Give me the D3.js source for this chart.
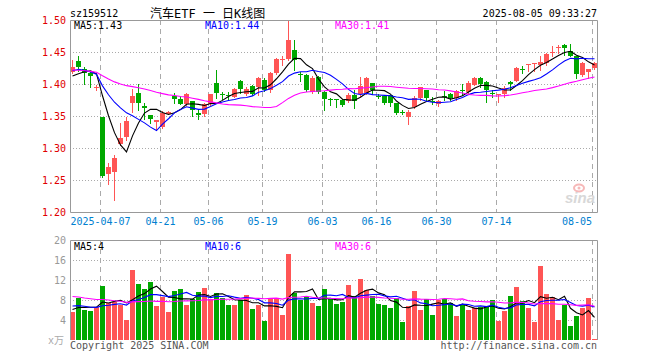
<!DOCTYPE html>
<html>
<head>
<meta charset="utf-8">
<script src="https://cdn.jsdelivr.net/npm/d3@7"></script>
<style>
body { margin: 0; background: #fff; }
svg text { font-family: "DejaVu Sans Mono", "Noto Sans CJK SC", monospace; font-size: 10px; }
</style>
</head>
<body>
<svg width="660" height="360"></svg>
<script>
// trading days shown on the chart
var days = ['03-28','03-31','04-01','04-02','04-03','04-07','04-08','04-09','04-10','04-11',
  '04-14','04-15','04-16','04-17','04-18','04-21','04-22','04-23','04-24','04-25',
  '04-28','04-29','04-30','05-06','05-07','05-08','05-09','05-12','05-13','05-14',
  '05-15','05-16','05-19','05-20','05-21','05-22','05-23','05-26','05-27','05-28',
  '05-29','05-30','06-03','06-04','06-05','06-06','06-09','06-10','06-11','06-12',
  '06-13','06-16','06-17','06-18','06-19','06-20','06-23','06-24','06-25','06-26',
  '06-27','06-30','07-01','07-02','07-03','07-04','07-07','07-08','07-09','07-10',
  '07-11','07-14','07-15','07-16','07-17','07-18','07-21','07-22','07-23','07-24',
  '07-25','07-28','07-29','07-30','07-31','08-01','08-04','08-05'];

var open = [1.419,1.436,1.423,1.417,1.393,1.349,1.260,1.263,1.306,1.317,
  1.371,1.386,1.365,1.351,1.341,1.333,1.353,1.381,1.377,1.369,
  1.373,1.355,1.353,1.369,1.402,1.385,1.383,1.380,1.405,1.385,
  1.397,1.395,1.407,1.391,1.417,1.438,1.439,1.453,1.415,1.414,
  1.388,1.411,1.388,1.376,1.376,1.375,1.374,1.383,1.385,1.386,
  1.402,1.382,1.381,1.383,1.370,1.357,1.348,1.364,1.378,1.391,
  1.374,1.368,1.381,1.384,1.378,1.390,1.388,1.399,1.409,1.403,
  1.386,1.383,1.385,1.403,1.405,1.424,1.430,1.432,1.429,1.433,
  1.449,1.457,1.461,1.452,1.443,1.414,1.419,1.425];
var high = [1.437,1.443,1.427,1.418,1.398,1.349,1.277,1.289,1.339,1.349,
  1.392,1.400,1.371,1.351,1.343,1.358,1.358,1.386,1.381,1.386,
  1.373,1.359,1.370,1.384,1.422,1.387,1.387,1.393,1.406,1.395,
  1.399,1.411,1.410,1.418,1.440,1.443,1.500,1.468,1.418,1.416,
  1.412,1.413,1.389,1.378,1.377,1.376,1.386,1.390,1.411,1.411,
  1.402,1.384,1.381,1.383,1.370,1.360,1.360,1.381,1.396,1.391,
  1.380,1.375,1.389,1.386,1.390,1.400,1.404,1.411,1.411,1.404,
  1.390,1.384,1.397,1.404,1.426,1.428,1.431,1.433,1.443,1.448,
  1.459,1.461,1.462,1.462,1.443,1.435,1.424,1.434];
var low = [1.417,1.421,1.400,1.396,1.390,1.255,1.244,1.218,1.305,1.313,
  1.357,1.360,1.346,1.339,1.329,1.332,1.353,1.371,1.368,1.367,
  1.350,1.345,1.350,1.367,1.378,1.377,1.377,1.379,1.386,1.383,
  1.383,1.383,1.389,1.388,1.416,1.430,1.438,1.422,1.405,1.389,
  1.386,1.386,1.360,1.367,1.364,1.365,1.372,1.362,1.382,1.385,
  1.384,1.378,1.369,1.365,1.353,1.353,1.337,1.362,1.375,1.373,
  1.369,1.366,1.375,1.375,1.375,1.383,1.385,1.399,1.396,1.372,
  1.380,1.372,1.380,1.390,1.404,1.417,1.420,1.420,1.422,1.430,
  1.443,1.448,1.445,1.443,1.409,1.413,1.410,1.424];
var close = [1.427,1.427,1.417,1.412,1.396,1.256,1.271,1.285,1.316,1.342,
  1.381,1.371,1.363,1.345,1.343,1.355,1.356,1.377,1.369,1.385,
  1.359,1.351,1.368,1.384,1.386,1.383,1.381,1.392,1.392,1.392,
  1.385,1.409,1.391,1.417,1.439,1.439,1.469,1.437,1.414,1.391,
  1.409,1.388,1.376,1.375,1.375,1.367,1.383,1.374,1.397,1.409,
  1.390,1.381,1.371,1.370,1.355,1.356,1.357,1.378,1.395,1.378,
  1.373,1.373,1.380,1.378,1.389,1.389,1.401,1.409,1.400,1.390,
  1.385,1.384,1.394,1.400,1.425,1.423,1.431,1.433,1.434,1.447,
  1.450,1.458,1.457,1.444,1.415,1.433,1.424,1.433];
// volume in units of 万
var volume = [5.7,8.5,6.1,5.9,6.7,10.8,7.5,7.7,7.0,4.0,
  14.0,11.2,10.2,11.6,6.8,8.7,5.6,9.8,10.2,7.0,
  8.3,9.6,10.4,8.3,9.4,8.5,7.0,7.0,8.0,9.0,
  6.3,7.0,3.8,8.2,8.3,5.0,17.2,9.5,8.1,8.7,
  7.5,6.8,10.3,8.3,7.2,7.6,11.0,8.8,12.2,10.1,
  8.8,7.2,7.0,6.4,8.5,3.6,6.8,9.8,6.0,8.3,
  5.0,8.1,8.3,7.5,4.8,7.1,6.0,6.5,6.7,6.8,
  8.0,3.8,5.8,8.8,10.7,7.8,6.4,3.6,14.8,9.2,
  8.7,4.0,7.0,2.8,4.8,6.4,8.4,0.15];

// sessions before the window, only felt through the moving averages
var earlierClose = [1.445,1.438,1.442,1.435,1.425,1.418,1.422,1.415,1.420,1.428,
  1.420,1.425,1.418,1.422,1.417,1.415,1.410,1.414,1.411,1.413,
  1.404,1.432,1.438,1.433,1.437,1.410,1.402,1.404,1.420];
var earlierVolume = [11.5,12.0,10.8,10.9,11.0,10.2,12.5,9.8,10.5,11.2,
  9.6,9.6,8.5,9.2,7.8,8.8,8.2,7.2,6.5,7.2,
  7.8,7.2,8.0,7.0,7.5,6.5,6.0,5.8,6.5];

var priceTicks = [1.50,1.45,1.40,1.35,1.30,1.25,1.20];
var volTicks = [20,16,12,8,4];
var dateTicks = ['04-07','04-21','05-06','05-19','06-03','06-16','06-30','07-14','08-05'];
var dateTickText = ['2025-04-07','04-21','05-06','05-19','06-03','06-16','06-30','07-14','08-05'];
var priceLegend = ['MA5:1.43','MA10:1.44','MA30:1.41'];
var volLegend = ['MA5:4','MA10:6','MA30:6'];

var RED = '#ff5555', GREEN = '#00a800';
var maColors = ['#000000','#0000ff','#ff00ff'];

var svg = d3.select('svg');

var x = d3.scaleBand().domain(days).range([70, 598]);
var y = d3.scaleLinear().domain([1.20, 1.50]).range([212, 20]);
var yv = d3.scaleLinear().domain([0, 20]).range([340, 240]);

var idx = d3.range(days.length);
var px = function(v){ return Math.round(v) + 0.5; };
var cx = function(i){ return x(days[i]) + 2.5; };

// moving average over the visible window, using earlier sessions to fill the start
var movingAvg = function(prev, vals, n){
  var all = prev.concat(vals);
  return vals.map(function(v, i){
    var end = i + prev.length;
    return d3.mean(all.slice(end - n + 1, end + 1));
  });
};

// grid
var grid = svg.append('g');
grid.selectAll('.hp').data(priceTicks.slice(1, -1)).join('line')
  .attr('x1', 70).attr('x2', 598)
  .attr('y1', function(d){ return px(y(d)); })
  .attr('y2', function(d){ return px(y(d)); })
  .attr('stroke', '#aaa').attr('stroke-dasharray', '1,2');
grid.selectAll('.hv').data(volTicks.slice(1)).join('line')
  .attr('x1', 70).attr('x2', 598)
  .attr('y1', function(d){ return px(yv(d)); })
  .attr('y2', function(d){ return px(yv(d)); })
  .attr('stroke', '#aaa').attr('stroke-dasharray', '1,2');
[[20, 212], [240, 340]].forEach(function(r){
  grid.append('g').selectAll('line').data(dateTicks).join('line')
    .attr('x1', function(d){ return x(d) + 0.5; })
    .attr('x2', function(d){ return x(d) + 0.5; })
    .attr('y1', r[0]).attr('y2', r[1])
    .attr('stroke', '#aaa').attr('stroke-dasharray', '5,4');
});

// watermark
var wm = svg.append('g');
wm.append('ellipse').attr('cx', 579).attr('cy', 188).attr('rx', 5).attr('ry', 3.5)
  .attr('fill', 'none').attr('stroke', '#f6b8b8').attr('stroke-width', 2);
wm.append('circle').attr('cx', 579).attr('cy', 188).attr('r', 1.5).attr('fill', '#f6b8b8');
wm.append('text').attr('x', 565).attr('y', 203)
  .style('font-family', 'Liberation Sans, Arial, sans-serif')
  .style('font-size', '15px').style('font-style', 'italic').style('font-weight', 'bold')
  .attr('fill', '#d8d8d8').text('sina');

// candles
var colorOf = function(i){ return close[i] >= open[i] ? RED : GREEN; };
var candles = svg.append('g');
candles.selectAll('line').data(idx).join('line')
  .attr('x1', cx).attr('x2', cx)
  .attr('y1', function(i){ return Math.round(y(high[i])); })
  .attr('y2', function(i){ return Math.round(y(low[i])) + 1; })
  .attr('stroke', colorOf);
candles.selectAll('rect').data(idx).join('rect')
  .attr('x', function(i){ return x(days[i]); })
  .attr('width', 5)
  .attr('y', function(i){ return Math.round(y(Math.max(open[i], close[i]))); })
  .attr('height', function(i){
    return Math.max(1, Math.round(y(Math.min(open[i], close[i]))) - Math.round(y(Math.max(open[i], close[i]))));
  })
  .attr('fill', colorOf);

// volume bars
svg.append('g').selectAll('rect').data(idx).join('rect')
  .attr('x', function(i){ return x(days[i]); })
  .attr('width', 5)
  .attr('y', function(i){ return Math.round(yv(volume[i])); })
  .attr('height', function(i){ return 340 - Math.round(yv(volume[i])); })
  .attr('fill', colorOf);

// moving average lines
[5, 10, 30].forEach(function(n, k){
  var pm = movingAvg(earlierClose, close, n);
  var vm = movingAvg(earlierVolume, volume, n);
  svg.append('path').datum(idx)
    .attr('d', d3.line().x(cx).y(function(i){ return y(pm[i]); }))
    .attr('fill', 'none').attr('stroke', maColors[k]).attr('stroke-width', 1.1);
  svg.append('path').datum(idx)
    .attr('d', d3.line().x(cx).y(function(i){ return yv(vm[i]); }))
    .attr('fill', 'none').attr('stroke', maColors[k]).attr('stroke-width', 1.1);
});

// frames
var frame = svg.append('g').attr('stroke', '#999').attr('fill', 'none');
frame.append('path').attr('d', 'M70.5,212.5V20.5H597.5V212.5H70.5');
frame.append('path').attr('d', 'M70.5,340V240.5H597.5V340');

// axis labels
svg.append('g').selectAll('text').data(priceTicks).join('text')
  .attr('x', 66).attr('y', function(d){ return y(d) + 4; })
  .attr('text-anchor', 'end').attr('fill', '#e00000')
  .text(function(d){ return d.toFixed(2); });
svg.append('g').selectAll('text').data(volTicks).join('text')
  .attr('x', 66).attr('y', function(d){ return yv(d) + 4; })
  .attr('text-anchor', 'end').attr('fill', '#999')
  .text(function(d){ return d; });
svg.append('text').attr('x', 64).attr('y', 344).attr('text-anchor', 'end')
  .attr('fill', '#aaa').text('x万');
svg.append('g').selectAll('text').data(dateTicks).join('text')
  .attr('x', function(d, i){ return i === dateTicks.length - 1 ? x(d) : x(d) + 0.5; })
  .attr('y', 225)
  .attr('text-anchor', function(d, i){ return i === dateTicks.length - 1 ? 'end' : 'middle'; })
  .attr('fill', '#0080d0')
  .text(function(d, i){ return dateTickText[i]; });

// legends
var legendX = [74, 205, 335];
svg.append('g').selectAll('text').data(priceLegend).join('text')
  .attr('x', function(d, i){ return legendX[i]; }).attr('y', 29)
  .attr('fill', function(d, i){ return maColors[i]; }).text(function(d){ return d; });
svg.append('g').selectAll('text').data(volLegend).join('text')
  .attr('x', function(d, i){ return legendX[i]; }).attr('y', 250)
  .attr('fill', function(d, i){ return maColors[i]; }).text(function(d){ return d; });

// header and footer
svg.append('text').attr('x', 70).attr('y', 17).attr('fill', '#000').text('sz159512');
svg.append('text').attr('x', 150).attr('y', 18).attr('fill', '#000')
  .style('font-size', '12px').text('汽车ETF 一 日K线图');
svg.append('text').attr('x', 597).attr('y', 17).attr('text-anchor', 'end')
  .attr('fill', '#000').text('2025-08-05 09:33:27');
svg.append('text').attr('x', 70).attr('y', 349).attr('fill', '#555')
  .text('Copyright 2025 SINA.COM');
svg.append('text').attr('x', 597).attr('y', 349).attr('text-anchor', 'end')
  .attr('fill', '#555').text('http://finance.sina.com.cn');
</script>
</body>
</html>
